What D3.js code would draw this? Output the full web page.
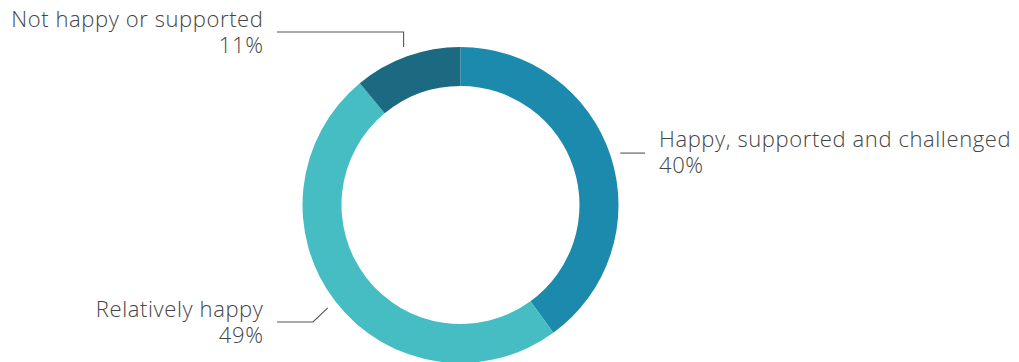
<!DOCTYPE html>
<html>
<head>
<meta charset="utf-8">
<script src="https://cdn.jsdelivr.net/npm/d3@7"></script>
<style>
  html, body { margin: 0; padding: 0; background: #fff; }
  svg { display: block; }
  .lbl { font-family: "Open Sans", Lato, sans-serif; font-weight: 300; font-size: 22px; letter-spacing: 0.6px; fill: #444; }
</style>
</head>
<body>
<svg id="chart" width="1019" height="362"></svg>
<script>
// Survey shares, clockwise from 12 o'clock
const categories = ["Happy, supported and challenged", "Relatively happy", "Not happy or supported"];
const shares = [40, 49, 11];
const shareLabels = ["40%", "49%", "11%"];
const colors = ["#1b8aad", "#46bdc3", "#1b6a82"];

const W = 1019, H = 362;
const cx = 460.5, cy = 205;
const outerR = 158, innerR = 119;
const leaderR = 168;

const svg = d3.select("#chart");
const g = svg.append("g").attr("transform", `translate(${cx},${cy})`);

const data = categories.map((c, i) => ({ name: c, value: shares[i], pct: shareLabels[i], color: colors[i] }));

const pie = d3.pie().value(d => d.value).sort(null);
const arc = d3.arc().innerRadius(innerR).outerRadius(outerR);
const arcs = pie(data);

g.selectAll("path.slice")
  .data(arcs)
  .join("path")
  .attr("class", "slice")
  .attr("d", arc)
  .attr("fill", d => d.data.color);

// Leader routing per label: path after leaving the ring, and text anchor position
const labelLayout = {
  "Happy, supported and challenged": { route: p => [p, [645 - cx, p[1]]], text: [659 - cx, 147 - cy], anchor: "start" },
  "Relatively happy": { route: p => [p, [313 - cx, 322 - cy], [277 - cx, 322 - cy]], text: [263.5 - cx, 317 - cy], anchor: "end" },
  "Not happy or supported": { route: p => [p, [p[0], 32 - cy], [277 - cx, 32 - cy]], text: [263.5 - cx, 27 - cy], anchor: "end" }
};

const line = d3.line();
arcs.forEach(a => {
  const mid = (a.startAngle + a.endAngle) / 2;
  const p = [leaderR * Math.sin(mid), -leaderR * Math.cos(mid)];
  const L = labelLayout[a.data.name];
  g.append("path")
    .attr("d", line(L.route(p)))
    .attr("fill", "none")
    .attr("stroke", "#555")
    .attr("stroke-width", 1.1);
  const t = g.append("text")
    .attr("class", "lbl")
    .attr("text-anchor", L.anchor)
    .attr("x", L.text[0])
    .attr("y", L.text[1]);
  t.append("tspan").attr("x", L.text[0]).text(a.data.name);
  t.append("tspan").attr("x", L.text[0]).attr("dy", 26).text(a.data.pct);
});
</script>
</body>
</html>
